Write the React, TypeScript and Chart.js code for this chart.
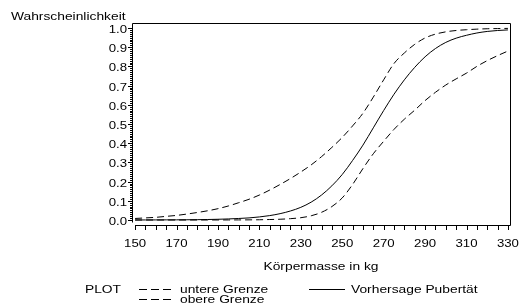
import React, { useEffect, useRef } from "react";
import { Chart, registerables } from "chart.js";

Chart.register(...registerables);

// ---- data ----
const masses = [
  150, 155, 160, 165, 170, 175, 180, 185, 190, 195, 200, 205, 210, 215, 220, 225, 230, 235, 240,
  245, 250, 255, 260, 265, 270, 275, 280, 285, 290, 295, 300, 305, 310, 315, 320, 325, 330,
];
const prediction = [
  0.0002, 0.0003, 0.0005, 0.0007, 0.0009, 0.0013, 0.0018, 0.0026, 0.0038, 0.0055, 0.008, 0.011,
  0.016, 0.023, 0.033, 0.047, 0.066, 0.093, 0.13, 0.178, 0.237, 0.31, 0.39, 0.48, 0.57, 0.655,
  0.73, 0.795, 0.85, 0.893, 0.925, 0.947, 0.962, 0.974, 0.982, 0.987, 0.99,
];
const lowerBound = [
  0.0, 0.0, 0.0, 0.0, 0.0, 0.0, 0.0001, 0.0001, 0.0002, 0.0003, 0.0005, 0.0008, 0.0013, 0.0025,
  0.004, 0.007, 0.012, 0.022, 0.04, 0.07, 0.115, 0.185, 0.268, 0.345, 0.41, 0.472, 0.525, 0.572,
  0.622, 0.665, 0.703, 0.735, 0.765, 0.8, 0.83, 0.856, 0.88,
];
const upperBound = [
  0.008, 0.011, 0.014, 0.019, 0.024, 0.031, 0.039, 0.048, 0.059, 0.073, 0.09, 0.108, 0.13, 0.156,
  0.185, 0.216, 0.25, 0.287, 0.33, 0.378, 0.43, 0.49, 0.556, 0.64, 0.73, 0.815, 0.87, 0.915,
  0.948, 0.968, 0.98, 0.987, 0.991, 0.994, 0.996, 0.997, 0.998,
];
const xTickLabels = [150, 170, 190, 210, 230, 250, 270, 290, 310, 330];
const xMinorTicks = masses;
const yTickLabels = [0.0, 0.1, 0.2, 0.3, 0.4, 0.5, 0.6, 0.7, 0.8, 0.9, 1.0];
const yMinorTicks = Array.from({ length: 101 }, (_, i) => i / 100);
const seriesNames = ["untere Grenze", "obere Grenze", "Vorhersage Pubertät"];
const legendTitle = "PLOT";
const xTitle = "Körpermasse in kg";
const yTitle = "Wahrscheinlichkeit";

const FONT = '"Liberation Sans", Arial, sans-serif';
const SX = 1.2;

function txt(ctx: CanvasRenderingContext2D, s: string, x: number, y: number, align: string, size: number) {
  ctx.font = `${size}px ${FONT}`;
  const w = ctx.measureText(s).width * SX;
  let left = x;
  if (align === "center") left = x - w / 2;
  else if (align === "right") left = x - w;
  ctx.save();
  ctx.translate(left, y);
  ctx.scale(SX, 1);
  ctx.textAlign = "left";
  ctx.textBaseline = "alphabetic";
  ctx.fillStyle = "#000";
  ctx.fillText(s, 0, 0);
  ctx.restore();
}

function line(ctx: CanvasRenderingContext2D, x1: number, y1: number, x2: number, y2: number, dash: number[] = []) {
  ctx.save();
  ctx.strokeStyle = "#000";
  ctx.lineWidth = 1;
  ctx.setLineDash(dash);
  ctx.beginPath();
  ctx.moveTo(x1, y1);
  ctx.lineTo(x2, y2);
  ctx.stroke();
  ctx.restore();
}

const framePlugin = {
  id: "sasFrame",
  afterDraw(chart: any) {
    const ctx: CanvasRenderingContext2D = chart.ctx;
    const { left, right, top, bottom } = chart.chartArea;
    const xs = chart.scales.x;
    const ys = chart.scales.y;
    const L = Math.round(left) + 0.5;
    const R = Math.round(right) + 0.5;
    const T = Math.round(top) + 0.5;
    const B = Math.round(bottom) + 0.5;
    const x150 = Math.round(xs.getPixelForValue(xTickLabels[0])) + 0.5;
    // frame
    line(ctx, L, T, R, T);
    line(ctx, R, T, R, B);
    line(ctx, L, T, L, B - 3);
    line(ctx, x150 - 0.5, B, R, B);
    // y ticks
    yMinorTicks.forEach((v) => {
      const py = Math.round(ys.getPixelForValue(v)) + 0.5;
      line(ctx, L - 2.5, py, L, py);
    });
    yTickLabels.forEach((v) => {
      const py = Math.round(ys.getPixelForValue(v)) + 0.5;
      line(ctx, L - 4.5, py, L, py);
      txt(ctx, v.toFixed(1), L - 5.5, py + 4, "right", 11);
    });
    // x ticks
    xMinorTicks.forEach((v) => {
      const px = Math.round(xs.getPixelForValue(v)) + 0.5;
      line(ctx, px, B, px, B + 4.5);
    });
    xTickLabels.forEach((v) => {
      const px = xs.getPixelForValue(v);
      txt(ctx, String(v), px, 247, "center", 11);
    });
    // titles
    txt(ctx, yTitle, 11, 20, "left", 11.5);
    txt(ctx, xTitle, (left + right) / 2, 270, "center", 11.5);
    // legend
    txt(ctx, legendTitle, 121, 293, "right", 11.5);
    line(ctx, 139, 289.5, 173, 289.5, [8, 4]);
    txt(ctx, seriesNames[0], 180, 293, "left", 11.5);
    line(ctx, 139, 299.5, 173, 299.5, [8, 4]);
    txt(ctx, seriesNames[1], 180, 303, "left", 11.5);
    line(ctx, 309, 289.5, 345, 289.5);
    txt(ctx, seriesNames[2], 351, 293, "left", 11.5);
  },
};

export default function App() {
  const ref = useRef<HTMLCanvasElement | null>(null);
  useEffect(() => {
    if (!ref.current) return;
    const mk = (vals: number[]) => masses.map((m, i) => ({ x: m, y: vals[i] }));
    const common = {
      borderColor: "#000",
      borderWidth: 1,
      pointRadius: 0,
      fill: false,
      cubicInterpolationMode: "monotone" as const,
    };
    const chart = new Chart(ref.current, {
      type: "line",
      data: {
        datasets: [
          { label: seriesNames[0], data: mk(lowerBound), borderDash: [7, 4], ...common },
          { label: seriesNames[1], data: mk(upperBound), borderDash: [7, 4], ...common },
          { label: seriesNames[2], data: mk(prediction), ...common },
        ],
      },
      options: {
        animation: false,
        responsive: false,
        layout: { padding: { left: 132, right: 10, top: 23, bottom: 81 } },
        scales: {
          x: { type: "linear", min: 148.5, max: 331, display: false },
          y: { type: "linear", min: -0.026, max: 1.026, display: false },
        },
        plugins: { legend: { display: false }, tooltip: { enabled: false } },
      },
      plugins: [framePlugin],
    });
    return () => chart.destroy();
  }, []);
  return (
    <div style={{ position: "absolute", left: 0, top: 0, width: 520, height: 306, background: "#fff" }}>
      <canvas ref={ref} width={520} height={306} style={{ display: "block" }} />
    </div>
  );
}
